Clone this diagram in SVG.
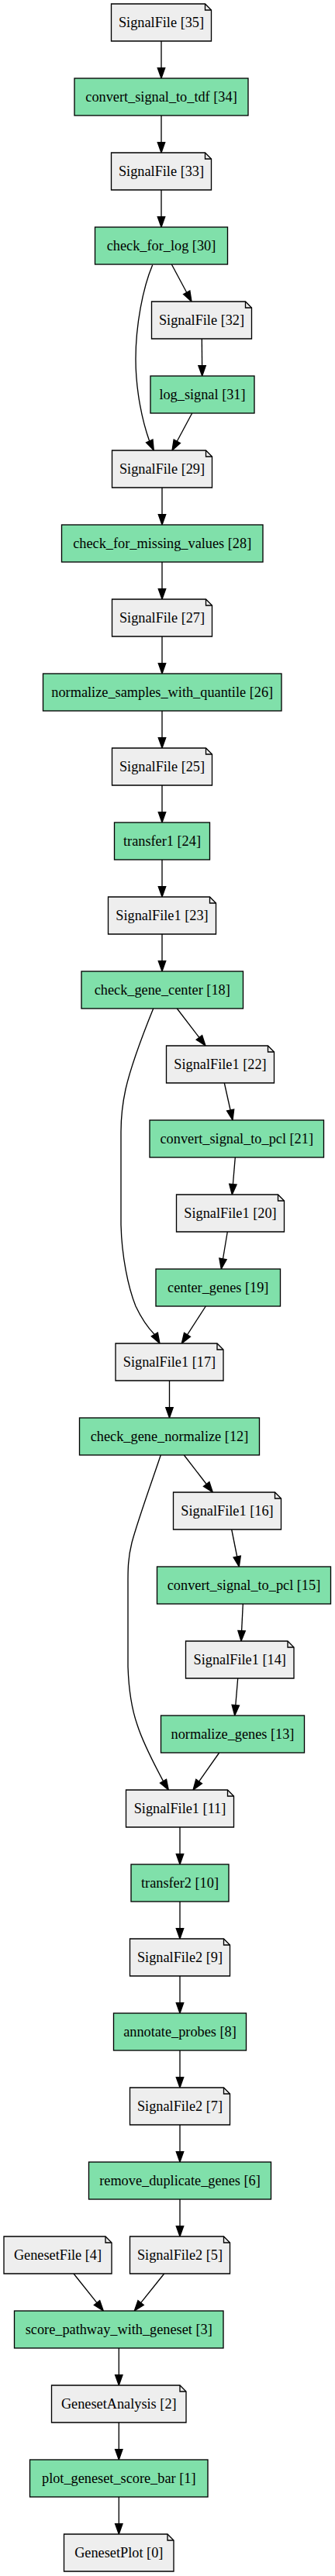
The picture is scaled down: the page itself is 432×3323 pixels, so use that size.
<svg xmlns="http://www.w3.org/2000/svg" width="432" height="3323" viewBox="0 0 432 3323">
<style>
.proc{fill:#80e0aa;stroke:#000;stroke-width:1.33}
.note{fill:#eeeeee;stroke:#000;stroke-width:1.33}
.fold{fill:none;stroke:#000;stroke-width:1.33}
text{font-family:"Liberation Serif","Times New Roman",serif;font-size:18.3px;text-anchor:middle;fill:#000}
.e{fill:none;stroke:#000;stroke-width:1.33}
.a{fill:#000;stroke:#000;stroke-width:1.33}
</style>
<rect x="0" y="0" width="432" height="3323" fill="#fff"/>
<g id="connectors">
<path class="e" d="M208,53V87.7"/><polygon class="a" points="203.3,87.7 208,101 212.7,87.7"/>
<path class="e" d="M208,149V183.7"/><polygon class="a" points="203.3,183.7 208,197 212.7,183.7"/>
<path class="e" d="M208,245V279.7"/><polygon class="a" points="203.3,279.7 208,293 212.7,279.7"/>
<path class="e" d="M221.3,341L240.7,377.3"/><polygon class="a" points="236.56,379.52 247,389 244.84,375.08"/>
<path class="e" d="M260.3,437L260.6,471.7"/><polygon class="a" points="255.9,471.7 260.7,485 265.3,471.7"/>
<path class="e" d="M247.7,533L228.3,569.3"/><polygon class="a" points="224.16,567.08 222,581 232.44,571.52"/>
<path class="e" d="M196.7,341.7C184,372 175,420 175,463C175,505 184,545 192.7,568.9"/><polygon class="a" points="188.43,570.87 198.3,581 196.97,566.93"/>
<path class="e" d="M209,629V663.7"/><polygon class="a" points="204.3,663.7 209,677 213.7,663.7"/>
<path class="e" d="M209,725V759.7"/><polygon class="a" points="204.3,759.7 209,773 213.7,759.7"/>
<path class="e" d="M209,821V855.7"/><polygon class="a" points="204.3,855.7 209,869 213.7,855.7"/>
<path class="e" d="M209,917V951.7"/><polygon class="a" points="204.3,951.7 209,965 213.7,951.7"/>
<path class="e" d="M209,1013V1047.7"/><polygon class="a" points="204.3,1047.7 209,1061 213.7,1047.7"/>
<path class="e" d="M209,1109V1143.7"/><polygon class="a" points="204.3,1143.7 209,1157 213.7,1143.7"/>
<path class="e" d="M209,1205V1239.7"/><polygon class="a" points="204.3,1239.7 209,1253 213.7,1239.7"/>
<path class="e" d="M228.3,1301L256.9,1338.4"/><polygon class="a" points="253.17,1341.25 265,1349 260.63,1335.55"/>
<path class="e" d="M289.3,1397L297.1,1432"/><polygon class="a" points="292.51,1433.02 300,1445 301.69,1430.98"/>
<path class="e" d="M303.3,1493L300.4,1527.7"/><polygon class="a" points="295.72,1527.31 299.3,1541 305.08,1528.09"/>
<path class="e" d="M293.3,1589L287.5,1623.9"/><polygon class="a" points="282.87,1623.13 285.3,1637 292.13,1624.67"/>
<path class="e" d="M265.3,1685L241.5,1721.8"/><polygon class="a" points="237.55,1719.25 234.3,1733 245.45,1724.35"/>
<path class="e" d="M197.7,1301C188,1325 170,1370 162,1405C157,1428 156,1445 156,1460L156,1580C157,1620 165,1660 175,1685C183,1702 192,1714 199.3,1721.5"/><polygon class="a" points="195.24,1723.86 206,1733 203.36,1719.14"/>
<path class="e" d="M218.5,1781V1815.7"/><polygon class="a" points="213.8,1815.7 218.5,1829 223.2,1815.7"/>
<path class="e" d="M237.3,1877L266.2,1914.5"/><polygon class="a" points="262.48,1917.37 274.3,1925 269.92,1911.63"/>
<path class="e" d="M298.7,1973L305.7,2008"/><polygon class="a" points="301.09,2008.92 308.3,2021 310.31,2007.08"/>
<path class="e" d="M313.3,2069L311.6,2103.7"/><polygon class="a" points="306.91,2103.47 311,2117 316.29,2103.93"/>
<path class="e" d="M306.7,2165L303.8,2199.7"/><polygon class="a" points="299.12,2199.31 302.7,2213 308.48,2200.09"/>
<path class="e" d="M282.7,2261L256.6,2298.1"/><polygon class="a" points="252.75,2295.4 249,2309 260.45,2300.8"/>
<path class="e" d="M207.3,1877C198,1905 178,1960 170,1990C165,2010 165,2025 165,2040L165,2150C166,2180 170,2205 177,2225C185,2250 200,2278 210.5,2297.6"/><polygon class="a" points="206.46,2300.01 217.3,2309 214.54,2295.19"/>
<path class="e" d="M232,2357V2391.7"/><polygon class="a" points="227.3,2391.7 232,2405 236.7,2391.7"/>
<path class="e" d="M232,2453V2487.7"/><polygon class="a" points="227.3,2487.7 232,2501 236.7,2487.7"/>
<path class="e" d="M232,2549V2583.7"/><polygon class="a" points="227.3,2583.7 232,2597 236.7,2583.7"/>
<path class="e" d="M232,2645V2679.7"/><polygon class="a" points="227.3,2679.7 232,2693 236.7,2679.7"/>
<path class="e" d="M232,2741V2775.7"/><polygon class="a" points="227.3,2775.7 232,2789 236.7,2775.7"/>
<path class="e" d="M232,2837V2871.7"/><polygon class="a" points="227.3,2871.7 232,2885 236.7,2871.7"/>
<path class="e" d="M95,2933L125,2970.6"/><polygon class="a" points="121.33,2973.53 133.3,2981 128.67,2967.67"/>
<path class="e" d="M211.7,2933L181.6,2970.6"/><polygon class="a" points="177.93,2967.66 173.3,2981 185.27,2973.54"/>
<path class="e" d="M153.3,3029V3063.7"/><polygon class="a" points="148.6,3063.7 153.3,3077 158,3063.7"/>
<path class="e" d="M153.3,3125V3159.7"/><polygon class="a" points="148.6,3159.7 153.3,3173 158,3159.7"/>
<path class="e" d="M153.3,3221V3255.7"/><polygon class="a" points="148.6,3255.7 153.3,3269 158,3255.7"/>
</g>
<g id="n35"><path class="note" d="M143.5,5H264.5L272.5,13V53H143.5Z"/><path class="fold" d="M264.5,5V13H272.5"/><text x="208" y="35.3">SignalFile [35]</text></g>
<g id="n34"><rect class="proc" x="96" y="101" width="224" height="48"/><text x="208" y="131.3">convert_signal_to_tdf [34]</text></g>
<g id="n33"><path class="note" d="M143.5,197H264.5L272.5,205V245H143.5Z"/><path class="fold" d="M264.5,197V205H272.5"/><text x="208" y="227.3">SignalFile [33]</text></g>
<g id="n30"><rect class="proc" x="122.5" y="293" width="171" height="48"/><text x="208" y="323.3">check_for_log [30]</text></g>
<g id="n32"><path class="note" d="M195.5,389H316.5L324.5,397V437H195.5Z"/><path class="fold" d="M316.5,389V397H324.5"/><text x="260" y="419.3">SignalFile [32]</text></g>
<g id="n31"><rect class="proc" x="194" y="485" width="134" height="48"/><text x="261" y="515.3">log_signal [31]</text></g>
<g id="n29"><path class="note" d="M144.5,581H265.5L273.5,589V629H144.5Z"/><path class="fold" d="M265.5,581V589H273.5"/><text x="209" y="611.3">SignalFile [29]</text></g>
<g id="n28"><rect class="proc" x="79.5" y="677" width="259.5" height="48"/><text x="209.25" y="707.3">check_for_missing_values [28]</text></g>
<g id="n27"><path class="note" d="M144.5,773H265.5L273.5,781V821H144.5Z"/><path class="fold" d="M265.5,773V781H273.5"/><text x="209" y="803.3">SignalFile [27]</text></g>
<g id="n26"><rect class="proc" x="55.5" y="869" width="307.5" height="48"/><text x="209.25" y="899.3">normalize_samples_with_quantile [26]</text></g>
<g id="n25"><path class="note" d="M144.5,965H265.5L273.5,973V1013H144.5Z"/><path class="fold" d="M265.5,965V973H273.5"/><text x="209" y="995.3">SignalFile [25]</text></g>
<g id="n24"><rect class="proc" x="147.5" y="1061" width="123" height="48"/><text x="209" y="1091.3">transfer1 [24]</text></g>
<g id="n23"><path class="note" d="M139.5,1157H270.5L278.5,1165V1205H139.5Z"/><path class="fold" d="M270.5,1157V1165H278.5"/><text x="209" y="1187.3">SignalFile1 [23]</text></g>
<g id="n18"><rect class="proc" x="105" y="1253" width="208.5" height="48"/><text x="209.25" y="1283.3">check_gene_center [18]</text></g>
<g id="n22"><path class="note" d="M214.5,1349H345.5L353.5,1357V1397H214.5Z"/><path class="fold" d="M345.5,1349V1357H353.5"/><text x="284" y="1379.3">SignalFile1 [22]</text></g>
<g id="n21"><rect class="proc" x="193" y="1445" width="224.5" height="48"/><text x="305.25" y="1475.3">convert_signal_to_pcl [21]</text></g>
<g id="n20"><path class="note" d="M227.5,1541H358.5L366.5,1549V1589H227.5Z"/><path class="fold" d="M358.5,1541V1549H366.5"/><text x="297" y="1571.3">SignalFile1 [20]</text></g>
<g id="n19"><rect class="proc" x="201" y="1637" width="160.5" height="48"/><text x="281.25" y="1667.3">center_genes [19]</text></g>
<g id="n17"><path class="note" d="M149,1733H280L288,1741V1781H149Z"/><path class="fold" d="M280,1733V1741H288"/><text x="218.5" y="1763.3">SignalFile1 [17]</text></g>
<g id="n12"><rect class="proc" x="102.5" y="1829" width="232" height="48"/><text x="218.5" y="1859.3">check_gene_normalize [12]</text></g>
<g id="n16"><path class="note" d="M223.5,1925H354.5L362.5,1933V1973H223.5Z"/><path class="fold" d="M354.5,1925V1933H362.5"/><text x="293" y="1955.3">SignalFile1 [16]</text></g>
<g id="n15"><rect class="proc" x="202.5" y="2021" width="224" height="48"/><text x="314.5" y="2051.3">convert_signal_to_pcl [15]</text></g>
<g id="n14"><path class="note" d="M239.5,2117H371L379,2125V2165H239.5Z"/><path class="fold" d="M371,2117V2125H379"/><text x="309.25" y="2147.3">SignalFile1 [14]</text></g>
<g id="n13"><rect class="proc" x="207.5" y="2213" width="185" height="48"/><text x="300" y="2243.3">normalize_genes [13]</text></g>
<g id="n11"><path class="note" d="M162.5,2309H293.5L301.5,2317V2357H162.5Z"/><path class="fold" d="M293.5,2309V2317H301.5"/><text x="232" y="2339.3">SignalFile1 [11]</text></g>
<g id="n10"><rect class="proc" x="169" y="2405" width="126" height="48"/><text x="232" y="2435.3">transfer2 [10]</text></g>
<g id="n9"><path class="note" d="M167.5,2501H288.5L296.5,2509V2549H167.5Z"/><path class="fold" d="M288.5,2501V2509H296.5"/><text x="232" y="2531.3">SignalFile2 [9]</text></g>
<g id="n8"><rect class="proc" x="146.5" y="2597" width="171" height="48"/><text x="232" y="2627.3">annotate_probes [8]</text></g>
<g id="n7"><path class="note" d="M167.5,2693H288.5L296.5,2701V2741H167.5Z"/><path class="fold" d="M288.5,2693V2701H296.5"/><text x="232" y="2723.3">SignalFile2 [7]</text></g>
<g id="n6"><rect class="proc" x="114.5" y="2789" width="235" height="48"/><text x="232" y="2819.3">remove_duplicate_genes [6]</text></g>
<g id="n4"><path class="note" d="M5,2885H136L144,2893V2933H5Z"/><path class="fold" d="M136,2885V2893H144"/><text x="74.5" y="2915.3">GenesetFile [4]</text></g>
<g id="n5"><path class="note" d="M167.5,2885H288.5L296.5,2893V2933H167.5Z"/><path class="fold" d="M288.5,2885V2893H296.5"/><text x="232" y="2915.3">SignalFile2 [5]</text></g>
<g id="n3"><rect class="proc" x="18.5" y="2981" width="269.5" height="48"/><text x="153.25" y="3011.3">score_pathway_with_geneset [3]</text></g>
<g id="n2"><path class="note" d="M66.5,3077H232L240,3085V3125H66.5Z"/><path class="fold" d="M232,3077V3085H240"/><text x="153.25" y="3107.3">GenesetAnalysis [2]</text></g>
<g id="n1"><rect class="proc" x="38.5" y="3173" width="229.5" height="48"/><text x="153.25" y="3203.3">plot_geneset_score_bar [1]</text></g>
<g id="n0"><path class="note" d="M82.5,3269H216L224,3277V3317H82.5Z"/><path class="fold" d="M216,3269V3277H224"/><text x="153.25" y="3299.3">GenesetPlot [0]</text></g>
</svg>
